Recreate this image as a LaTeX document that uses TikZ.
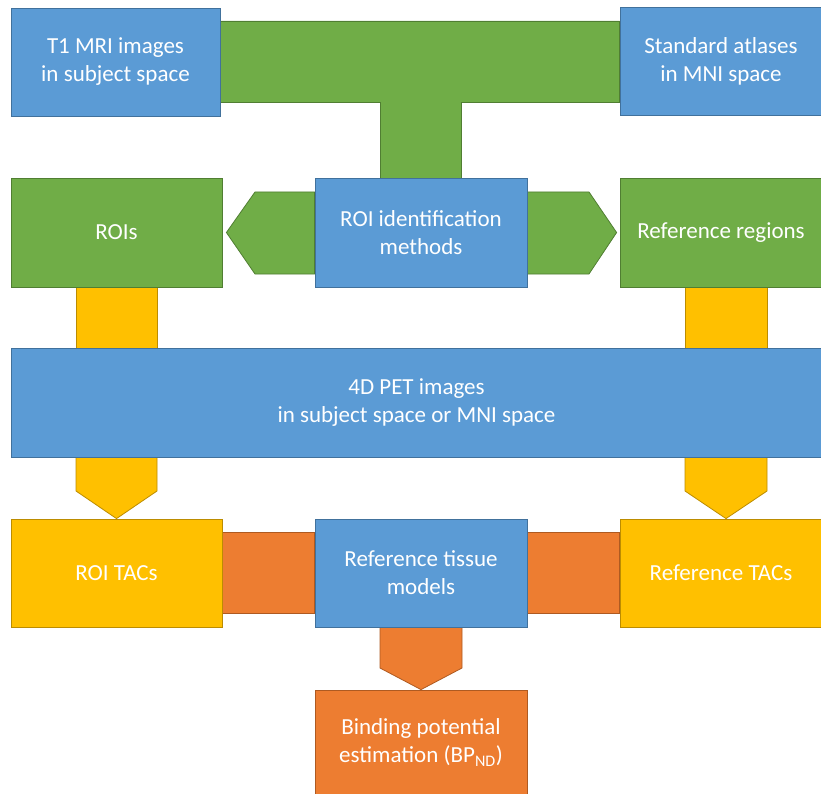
\documentclass[tikz,border=0pt]{standalone}
\usepackage{fontspec}
\setmainfont{Carlito}
\usetikzlibrary{calc}
\definecolor{bfill}{HTML}{5B9BD5}\definecolor{bline}{HTML}{41719C}
\definecolor{gfill}{HTML}{70AD47}\definecolor{gline}{HTML}{507E32}
\definecolor{yfill}{HTML}{FFC000}\definecolor{yline}{HTML}{BC8C00}
\definecolor{ofill}{HTML}{ED7D31}\definecolor{oline}{HTML}{AE5A21}
\tikzset{
  box/.style={draw, line width=0.8pt, inner sep=0pt, align=center, text=white,
    font=\fontsize{23}{28}\selectfont, minimum width=#1},
  bluebox/.style={box=#1, fill=bfill, draw=bline},
  greenbox/.style={box=#1, fill=gfill, draw=gline},
  yellowbox/.style={box=#1, fill=yfill, draw=yline},
  orangebox/.style={box=#1, fill=ofill, draw=oline},
  gconn/.style={fill=gfill, draw=gline, line width=0.8pt, line join=miter},
  yconn/.style={fill=yfill, draw=yline, line width=0.8pt, line join=miter},
  oconn/.style={fill=ofill, draw=oline, line width=0.8pt, line join=miter},
}
\begin{document}
\begin{tikzpicture}[x=1pt,y=-1pt]
\useasboundingbox (0,0) rectangle (821,794);
% box positions (named, drawn on top later)
\path
  (115.5,62) node[bluebox=209pt, minimum height=108pt] (t1) {}
  (721,61) node[bluebox=202pt, minimum height=108pt] (atlas) {}
  (116.5,232.5) node[greenbox=211pt, minimum height=109pt] (rois) {}
  (421,232.5) node[bluebox=212pt, minimum height=109pt] (roiid) {}
  (721,232.5) node[greenbox=202pt, minimum height=109pt] (refreg) {}
  (416.5,402.5) node[bluebox=811pt, minimum height=109pt] (pet) {}
  (116.5,573) node[yellowbox=211pt, minimum height=108pt] (roitac) {}
  (421,573) node[bluebox=212pt, minimum height=108pt] (rtm) {}
  (721,573) node[yellowbox=202pt, minimum height=108pt] (reftac) {}
  (421,742.5) node[orangebox=212pt, minimum height=105pt] (bp) {};
% connectors (behind boxes)
\draw[gconn] (t1.east |- 0,21) -- (atlas.west |- 0,21) -- (atlas.west |- 0,102)
  -- (461,102) -- (461,178) -- (380,178) -- (380,102) -- (t1.east |- 0,102) -- cycle;
\draw[gconn] (roiid.west |- 0,192) -- (255,192) -- ($(rois.east)+(4,0)$) -- (255,274) -- (roiid.west |- 0,274) -- cycle;
\draw[gconn] (roiid.east |- 0,192) -- (589,192) -- ($(refreg.west)+(-3,0)$) -- (589,274) -- (roiid.east |- 0,274) -- cycle;
\draw[yconn] (76,287) rectangle (157,348);
\draw[yconn] (685,287) rectangle (767,348);
\draw[yconn] (76,457) -- (157,457) -- (157,491) -- (roitac.north -| 116.5,0) -- (76,491) -- cycle;
\draw[yconn] (685,457) -- (767,457) -- (767,491) -- (reftac.north -| 726,0) -- (685,491) -- cycle;
\draw[oconn] (roitac.east |- 0,532) rectangle (rtm.west |- 0,613);
\draw[oconn] (rtm.east |- 0,532) rectangle (reftac.west |- 0,613);
\draw[oconn] (380,627) -- (462,627) -- (462,668) -- (bp.north) -- (380,668) -- cycle;
% boxes on top
\node[bluebox=209pt, minimum height=108pt] at (t1) {T1 MRI images\\in subject space};
\node[bluebox=202pt, minimum height=108pt] at (atlas) {Standard atlases\\in MNI space};
\node[greenbox=211pt, minimum height=109pt] at (rois) {ROIs};
\node[bluebox=212pt, minimum height=109pt] at (roiid) {ROI identification\\methods};
\node[greenbox=202pt, minimum height=109pt] at (refreg) {Reference regions};
\node[bluebox=811pt, minimum height=109pt] at (pet) {4D PET images\\in subject space or MNI space};
\node[yellowbox=211pt, minimum height=108pt] at (roitac) {ROI TACs};
\node[bluebox=212pt, minimum height=108pt] at (rtm) {Reference tissue\\models};
\node[yellowbox=202pt, minimum height=108pt] at (reftac) {Reference TACs};
\node[orangebox=212pt, minimum height=105pt] at (bp) {Binding potential\\estimation (BP\textsubscript{ND})};
\end{tikzpicture}
\end{document}
